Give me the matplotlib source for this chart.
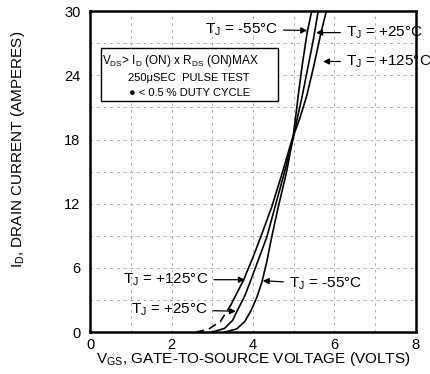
import matplotlib
matplotlib.use('Agg')
import matplotlib.pyplot as plt
from matplotlib.patches import Rectangle

plt.rcParams['font.family'] = ['Liberation Sans', 'DejaVu Sans']
plt.rcParams['mathtext.default'] = 'regular'

# Transfer characteristics (VGS in volts, ID in amperes)
vgs_m55 = [3.3, 3.6, 3.8, 3.95, 4.1, 4.22, 4.34, 4.46, 4.62, 4.82, 4.97, 5.06, 5.11, 5.21, 5.33, 5.44]
id_m55 = [0, 0.3, 1.0, 2.0, 3.3, 4.7, 6.6, 8.9, 11.7, 14.9, 17.9, 20.5, 22.1, 25.0, 28.0, 30.0]

vgs_p25 = [3.0, 3.3, 3.5, 3.6, 3.8, 4.0, 4.34, 4.54, 4.77, 4.97, 5.1, 5.21, 5.34, 5.48, 5.6]
id_p25 = [0, 0.35, 1.1, 1.9, 3.4, 5.4, 8.9, 11.7, 14.9, 17.9, 20.2, 22.1, 24.6, 27.3, 30.0]

vgs_p125_low = [2.6, 2.9, 3.2, 3.45]
id_p125_low = [0, 0.25, 1.0, 2.5]
vgs_p125 = [3.45, 3.76, 4.0, 4.2, 4.46, 4.72, 4.95, 5.15, 5.32, 5.5, 5.67, 5.8]
id_p125 = [2.5, 4.8, 7.0, 9.0, 11.7, 14.9, 17.9, 20.0, 22.1, 25.0, 28.0, 30.0]

x_ticks = [0, 2, 4, 6, 8]
y_ticks = [0, 6, 12, 18, 24, 30]

fig = plt.figure(figsize=(4.31, 3.74), dpi=100)
ax = fig.add_axes([0.209, 0.112, 0.756, 0.858])

# faint dashed grid every 1 V / 3 A
for gx in range(1, 8):
    ax.axvline(gx, color='0.6', lw=0.6, ls=(0, (3, 5)), zorder=0)
for gy in range(3, 30, 3):
    ax.axhline(gy, color='0.6', lw=0.6, ls=(0, (3, 5)), zorder=0)

ax.plot(vgs_m55, id_m55, color='black', lw=1.2)
ax.plot(vgs_p25, id_p25, color='black', lw=1.2)
ax.plot(vgs_p125, id_p125, color='black', lw=1.2)
ax.plot(vgs_p125_low, id_p125_low, color='black', lw=1.2, ls=(0, (5, 3)))

ax.set_xlim(0, 8)
ax.set_ylim(0, 30)
ax.set_xticks(x_ticks)
ax.set_yticks(y_ticks)
ax.tick_params(length=0, labelsize=10.5)
ax.tick_params(axis='x', pad=4)
ax.tick_params(axis='y', pad=7)
for s in ax.spines.values():
    s.set_linewidth(1.8)

ax.set_xlabel('V$_{GS}$, GATE-TO-SOURCE VOLTAGE (VOLTS)', fontsize=11, labelpad=-1)
fig.text(0.042, 0.6, 'I$_{D}$, DRAIN CURRENT (AMPERES)', rotation=90,
         fontsize=11, ha='center', va='center')

# test conditions box
ax.add_patch(Rectangle((0.26, 21.6), 4.35, 4.95, fill=True, facecolor='white',
                       edgecolor='black', lw=1.0, zorder=3))
ax.text(0.3, 25.3, 'V$_{DS}$> I$_{D}$ (ON) x R$_{DS}$ (ON)MAX', fontsize=8.5, zorder=4,
        va='center')
ax.text(2.43, 23.8, '250\u03bcSEC  PULSE TEST', fontsize=8, ha='center', va='center', zorder=4)
ax.text(2.45, 22.4, '\u25cf < 0.5 % DUTY CYCLE', fontsize=8, ha='center', va='center', zorder=4)

arrow = dict(arrowstyle='-|>', color='black', lw=0.9, mutation_scale=9, shrinkA=2, shrinkB=0)
lab = dict(fontsize=11, va='center', annotation_clip=False)

ax.annotate('T$_{J}$ = -55°C', xy=(5.33, 28.2), xytext=(2.82, 28.3), arrowprops=arrow, **lab)
ax.annotate('T$_{J}$ = +25°C', xy=(5.55, 28.0), xytext=(6.28, 28.0), arrowprops=arrow, **lab)
ax.annotate('T$_{J}$ = +125°C', xy=(5.72, 25.3), xytext=(6.28, 25.3), arrowprops=arrow, **lab)
ax.annotate('T$_{J}$ = +125°C', xy=(3.8, 4.9), xytext=(0.81, 4.9), arrowprops=arrow, **lab)
ax.annotate('T$_{J}$ = +25°C', xy=(3.58, 1.95), xytext=(1.0, 2.1), arrowprops=arrow, **lab)
ax.annotate('T$_{J}$ = -55°C', xy=(4.24, 4.8), xytext=(4.88, 4.5), arrowprops=arrow, **lab)

fig.savefig('out.png', dpi=100)
